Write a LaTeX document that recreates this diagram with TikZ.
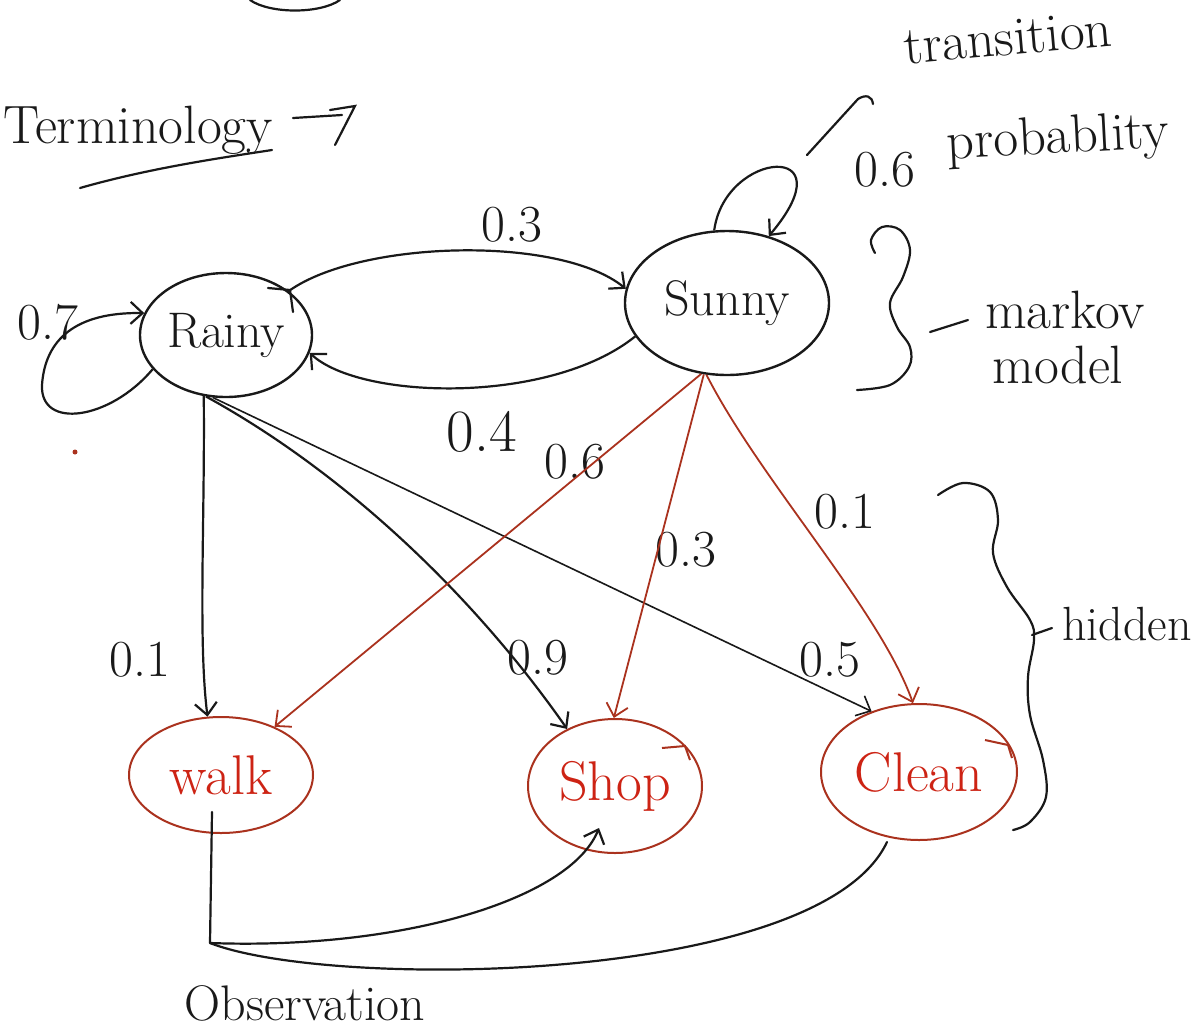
\documentclass[tikz,border=0pt]{standalone}
\usetikzlibrary{shapes.geometric,arrows.meta,calc}
\definecolor{ink}{RGB}{25,25,25}
\definecolor{hred}{RGB}{170,50,30}
\definecolor{tred}{RGB}{205,35,20}
\begin{document}
\begin{tikzpicture}[x=0.5pt,y=-0.5pt,
  state/.style={draw=ink,line width=1.2pt,ellipse,inner sep=0pt,font=\fontsize{25}{28}\selectfont,text=ink},
  obs/.style={draw=hred,line width=1pt,ellipse,inner sep=0pt,font=\fontsize{28}{30}\selectfont,text=tred},
  link/.style={draw=ink,line width=1.1pt,-{Straight Barb[length=6pt,width=11pt]}},
  thin/.style={draw=ink,line width=0.8pt,-{Straight Barb[length=6pt,width=11pt]}},
  rlink/.style={draw=hred,line width=0.9pt,-{Straight Barb[length=6pt,width=11pt]}},
  lab/.style={font=\fontsize{26}{28}\selectfont,text=ink},
  note/.style={font=\fontsize{27}{30}\selectfont,text=ink},
  stroke/.style={draw=ink,line width=1.1pt,line cap=round}]
\useasboundingbox (0,0) rectangle (1196,1030);
\fill[white] (0,0) rectangle (1196,1030);

% states
\node[state,minimum width=86pt,minimum height=62pt] (rainy) at (226,335) {\makebox[0pt]{Rainy}};
\node[state,minimum width=102pt,minimum height=72pt] (sunny) at (727,303) {\makebox[0pt]{Sunny}};
\node[obs,minimum width=92pt,minimum height=58pt] (walk) at (221,775) {\makebox[0pt]{walk}};
\node[obs,minimum width=87pt,minimum height=67pt] (shop) at (615,786) {\makebox[0pt]{Shop}};
\node[obs,minimum width=98pt,minimum height=68pt] (clean) at (919,772) {\makebox[0pt]{Clean}};

% texts
\node[note] (term) at (138,130) {Terminology};
\node[note,rotate=5] (trans) at (1008,38) {transition};
\node[note,rotate=3] (prob) at (1058,140) {probablity};
\node[note] (markov) at (1065,310) {markov};
\node[note] (model) at (1058,365) {model};
\node[note,font=\fontsize{24}{26}\selectfont] (hidden) at (1127,624) {hidden};
\node[note,font=\fontsize{25}{28}\selectfont] (obsv) at (305,1003) {Observation};

% labels
\node[lab] (l03) at (512,225) {0.3};
\node[lab,font=\fontsize{30}{32}\selectfont] (l04) at (482,432) {0.4};
\node[lab] (l07) at (48,322) {0.7};
\node[lab] (l06a) at (885,170) {0.6};
\node[lab] (l06b) at (575,462) {0.6};
\node[lab] (l01a) at (140,660) {0.1};
\node[lab] (l09) at (538,658) {0.9};
\node[lab] (l03b) at (686,550) {0.3};
\node[lab] (l01b) at (845,512) {0.1};
\node[lab] (l05) at (830,660) {0.5};

% markov chain arrows
\draw[link] (rainy.205) .. controls (110,420) and (40,430) .. (42,385)
   .. controls (45,340) and (75,312) .. (rainy.165);
\draw[link] (rainy.35) .. controls (360,240) and (560,235) .. (sunny.172);
\draw[link] (sunny.200) .. controls (550,405) and (360,400) .. (rainy.-12);
\draw[link] (sunny.100) .. controls (725,150) and (850,140) .. (sunny.58);

% emissions from rainy
\draw[link] (rainy.250) .. controls (205,520) and (198,640) .. (walk.103);
\draw[link] (rainy.252) .. controls (340,470) and (470,590) .. (shop.130);
\draw[thin] (rainy.258) -- (clean.128);

% emissions from sunny
\draw[rlink] (sunny.250) -- (walk.42);
\draw[rlink] (sunny.252) -- (shop.91);
\draw[rlink] (sunny.254) .. controls (760,480) and (880,610) .. (clean.95);

% observation connectors
\coordinate (corner) at (210,943);
\draw[stroke] ($(walk.south)+(-9,-22)$) -- (corner);
\draw[link] (corner) .. controls (400,950) and (570,900) .. ($(shop.center)+(-16,42)$);
\draw[stroke] (corner) .. controls (330,990) and (820,985) .. ($(clean.center)+(-32,70)$);

% terminology arrow and underline
\draw[stroke] (80,188) .. controls (150,168) and (220,158) .. (272,150);
\draw[stroke] (293,118) -- (342,115);
\draw[stroke] (330,110) -- (355,106) -- (335,145);

% transition bracket
\draw[stroke] (873,104) .. controls (872,96) and (866,94) .. (858,99) -- (807,155);

% markov brace
\draw[stroke] plot[smooth,tension=0.6] coordinates {(875,253) (871,240) (882,227) (900,230) (910,250) (903,277) (890,303) (897,327) (910,347) (909,367) (890,385) (857,390)};
\draw[stroke] (930,332) -- (968,320);

% hidden brace
\draw[stroke] plot[smooth,tension=0.6] coordinates {(938,495) (963,483) (990,492) (998,520) (993,553) (1007,587) (1030,620) (1034,640) (1028,677) (1030,715) (1043,760) (1046,797) (1030,822) (1013,830)};
\draw[stroke] (1032,635) -- (1052,628);

% direction ticks on ellipses
\draw[stroke] (268,288) -- (290,290) -- (293,312);
\draw[draw=hred,line width=1pt] (662,748) -- (685,746) -- (690,760);
\draw[draw=hred,line width=1pt] (985,740) -- (1008,745) -- (1012,758);

% stray marks
\draw[stroke] (250,0) .. controls (270,14) and (320,14) .. (340,0);
\fill[hred] (75,452) circle (2.5);
\end{tikzpicture}
\end{document}
